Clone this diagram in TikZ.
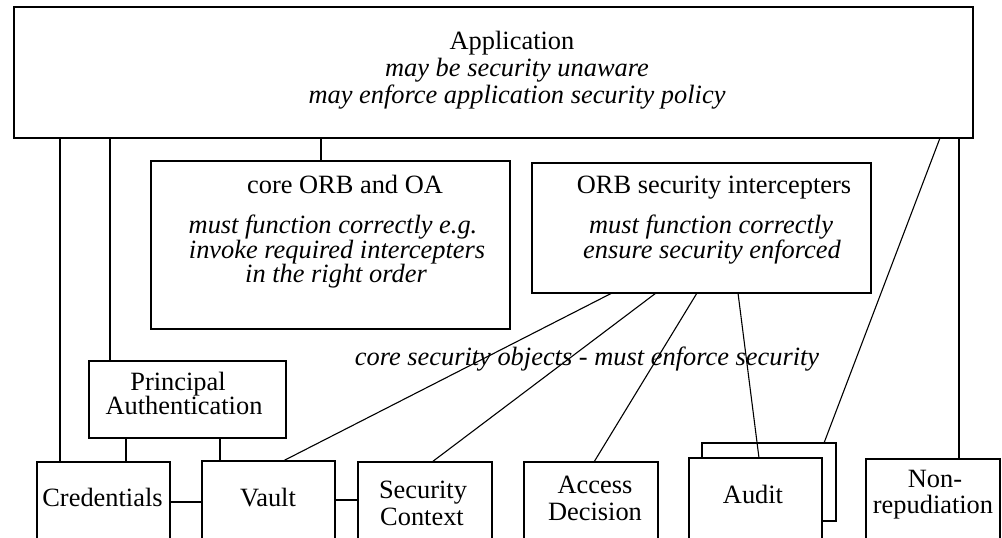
\documentclass[tikz,border=0pt]{standalone}
\usepackage{fontspec}
\setmainfont{Liberation Serif}
\begin{document}
\begin{tikzpicture}[x=0.5pt,y=-0.5pt,
  box/.style={draw, line width=1pt, inner sep=0pt, outer sep=0pt},
  conn/.style={line width=1pt},
  diag/.style={line width=0.55pt},
  txt/.style={anchor=base, inner sep=0pt, font=\fontsize{13.2}{15}\selectfont},
  itxt/.style={txt, font=\fontsize{13.2}{15}\selectfont\itshape}]
\useasboundingbox (0,0) rectangle (1002,537);
\clip (0,0) rectangle (1002,537);
% boxes
\node[box, minimum width=479.5pt, minimum height=65.5pt] (app) at (493.5,72.5) {};
\node[box, minimum width=179.5pt, minimum height=84pt] (core) at (330.5,245) {};
\node[box, minimum width=169.5pt, minimum height=65pt] (orbsec) at (701.5,228) {};
\node[box, minimum width=98.5pt, minimum height=38.5pt] (pa) at (187.5,399.5) {};
\node[box, minimum width=66.5pt, minimum height=49pt] (cred) at (103.5,511) {};
\node[box, minimum width=66.5pt, minimum height=49.5pt] (vault) at (268.5,510.5) {};
\node[box, minimum width=67pt, minimum height=49pt] (secctx) at (425,511) {};
\node[box, minimum width=67pt, minimum height=49pt] (access) at (591,511) {};
\node[box, minimum width=67pt, minimum height=39pt] (auditback) at (769,482) {};
\node[box, fill=white, minimum width=66.5pt, minimum height=51pt] (auditfront) at (755.5,509) {};
\node[box, minimum width=67pt, minimum height=50.5pt] (nonrep) at (933,509.5) {};
% texts
\node[txt] (t1) at (512,49) {Application};
\node[itxt] (t2) at (517,76) {may be security unaware};
\node[itxt] (t3) at (517,103) {may enforce application security policy};
\node[txt] (c1) at (345,193) {core ORB and OA};
\node[itxt] (c2) at (333,233) {must function correctly e.g.};
\node[itxt] (c3) at (337,258) {invoke required intercepters};
\node[itxt] (c4) at (336,282) {in the right order};
\node[txt] (o1) at (714,193) {ORB security intercepters};
\node[itxt] (o2) at (711,233) {must function correctly};
\node[itxt] (o3) at (712,258) {ensure security enforced};
\node[txt] (p1) at (178,390) {Principal};
\node[txt] (p2) at (184,414) {Authentication};
\node[txt] (cr) at (102.5,506) {Credentials};
\node[txt] (va) at (268,506) {Vault};
\node[txt] (s1) at (423,498) {Security};
\node[txt] (s2) at (422,525) {Context};
\node[txt] (a1) at (595,493) {Access};
\node[txt] (a2) at (595,520) {Decision};
\node[txt] (au) at (753,503) {Audit};
\node[txt] (n1) at (935,487) {Non-};
\node[txt] (n2) at (933,513) {repudiation};
\node[itxt] (lbl) at (587,365) {core security objects - must enforce security};
% x positions
\coordinate (x60) at (60,0);
\coordinate (x110) at (110,0);
\coordinate (x126) at (126,0);
\coordinate (x220) at (220,0);
\coordinate (x321) at (321,0);
\coordinate (x959) at (959,0);
\coordinate (x940) at (940,0);
\coordinate (x824) at (824,0);
\coordinate (x612) at (612,0);
\coordinate (x283) at (283,0);
\coordinate (x656) at (656,0);
\coordinate (x432) at (432,0);
\coordinate (x697) at (697,0);
\coordinate (x594) at (594,0);
\coordinate (x738) at (738,0);
\coordinate (x759) at (759,0);
\coordinate (y502) at (0,502);
\coordinate (y500) at (0,500);
% connectors
\draw[conn] (app.south -| x60) -- (cred.north -| x60);
\draw[conn] (app.south -| x110) -- (pa.north -| x110);
\draw[conn] (app.south -| x321) -- (core.north -| x321);
\draw[conn] (app.south -| x959) -- (nonrep.north -| x959);
\draw[diag] (app.south -| x940) -- (auditback.north -| x824);
\draw[conn] (pa.south -| x126) -- (cred.north -| x126);
\draw[conn] (pa.south -| x220) -- (vault.north -| x220);
\draw[conn] (cred.east |- y502) -- (vault.west |- y502);
\draw[conn] (vault.east |- y500) -- (secctx.west |- y500);
\draw[diag] (orbsec.south -| x612) -- (vault.north -| x283);
\draw[diag] (orbsec.south -| x656) -- (secctx.north -| x432);
\draw[diag] (orbsec.south -| x697) -- (access.north -| x594);
\draw[diag] (orbsec.south -| x738) -- (auditfront.north -| x759);
\end{tikzpicture}
\end{document}
